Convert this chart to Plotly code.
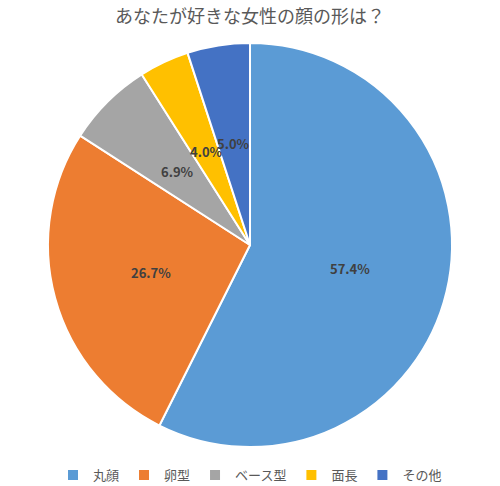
import math
import plotly.graph_objects as go

# データ
categorias = ['丸顔', '卵型', 'ベース型', '面長', 'その他']
valores = [57.4, 26.7, 6.9, 4.0, 5.0]
colores = ['#5B9BD5', '#ED7D31', '#A5A5A5', '#FFC000', '#4472C4']

W, H = 500, 486
M_T, M_B = 43, 39
FUENTE = 'Noto Sans CJK JP'

fig = go.Figure()

fig.add_trace(go.Pie(
    labels=categorias,
    values=valores,
    marker=dict(colors=colores, line=dict(color='white', width=2)),
    sort=False,
    direction='clockwise',
    rotation=0,
    textinfo='none',
    hoverinfo='label+percent',
    domain=dict(x=[0, 1], y=[0, 1]),
))

# etiquetas a mitad del radio, como en Excel
alto = H - M_T - M_B
radio = min(W, alto) / 2
total = sum(valores)
acum = 0
anotaciones = []
for v in valores:
    medio = (acum + v / 2) / total * 2 * math.pi
    acum += v
    r = 0.51 * radio
    anotaciones.append(dict(
        x=0.5 + r * math.sin(medio) / W,
        y=0.5 + r * math.cos(medio) / alto,
        xref='paper', yref='paper',
        xanchor='center', yanchor='middle',
        text='<b>%.1f%%</b>' % (v / total * 100),
        showarrow=False,
        font=dict(size=13, color='#404040', family=FUENTE),
    ))

fig.update_layout(
    width=W, height=H,
    margin=dict(l=0, r=0, t=M_T, b=M_B, pad=0, autoexpand=False),
    paper_bgcolor='white',
    title=dict(text='あなたが好きな女性の顔の形は？', x=0.5, xanchor='center',
               xref='paper', y=1 - 17 / H, yanchor='middle',
               font=dict(size=18, color='#595959', family=FUENTE)),
    legend=dict(orientation='h', x=0.5, xanchor='center', y=-13 / alto, yanchor='top',
                font=dict(size=13, color='#595959', family=FUENTE),
                itemwidth=30, traceorder='normal', tracegroupgap=0),
    annotations=anotaciones,
    font=dict(family=FUENTE),
)

# quitar el margen del body para que la figura empiece en (0,0)
fig.write_html("out.html", config={'displayModeBar': False},
               post_script="document.body.style.margin='0';")
